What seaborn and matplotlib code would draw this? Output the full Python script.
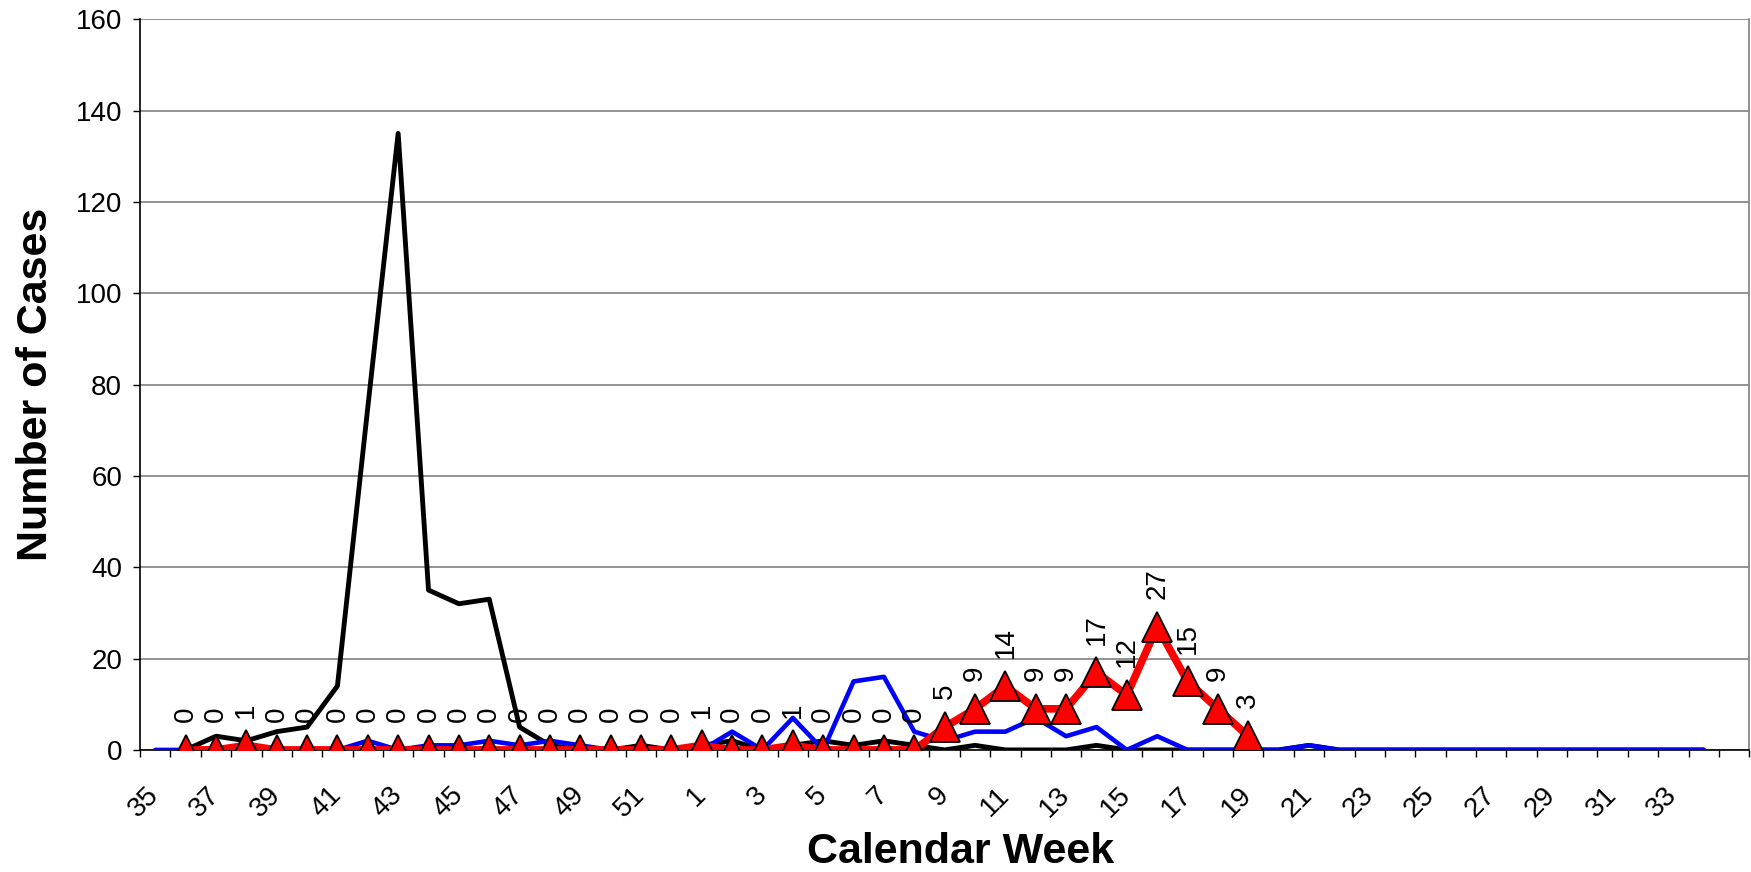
import pandas as pd
import matplotlib.pyplot as plt
import seaborn as sns

# semanas de calendario (35..52 e depois 1..34)
weeks = [str(w) for w in list(range(35, 53)) + list(range(1, 35))]

# serie preta (comeca na semana 36)
black_weeks = weeks[1:]
black_cases = [0, 3, 2, 4, 5, 14, 75, 135, 35, 32, 33, 5, 1, 0, 0, 1, 0,
               1, 2, 0, 1, 2, 1, 2, 1, 0, 1, 0, 0, 0, 1, 0, 0, 0, 0, 0, 0,
               1, 0, 0, 0, 0, 0, 0, 0, 0, 0, 0, 0, 0, 0]

# serie azul (semana 35 a 34)
blue_weeks = weeks
blue_cases = [0, 0, 0, 0, 0, 0, 0, 2, 0, 1, 1, 2, 1, 2, 1, 0, 0, 0,
              0, 4, 0, 7, 0, 15, 16, 4, 2, 4, 4, 7, 3, 5, 0, 3, 0, 0, 0, 0,
              1, 0, 0, 0, 0, 0, 0, 0, 0, 0, 0, 0, 0, 0]

# serie vermelha (semana 36 a 19), com rotulos
red_weeks = weeks[1:37]
red_cases = [0, 0, 1, 0, 0, 0, 0, 0, 0, 0, 0, 0, 0, 0, 0, 0, 0,
             1, 0, 0, 1, 0, 0, 0, 0, 5, 9, 14, 9, 9, 17, 12, 27, 15, 9, 3]

pos = {w: i for i, w in enumerate(weeks)}
df_black = pd.DataFrame({'x': [pos[w] for w in black_weeks], 'y': black_cases})
df_blue = pd.DataFrame({'x': [pos[w] for w in blue_weeks], 'y': blue_cases})
df_red = pd.DataFrame({'x': [pos[w] for w in red_weeks], 'y': red_cases})

sns.set_style("white")
plt.rcParams['font.family'] = ['Liberation Sans', 'DejaVu Sans']
plt.rcParams['text.color'] = 'black'
plt.rcParams['axes.labelcolor'] = 'black'
plt.rcParams['xtick.color'] = 'black'
plt.rcParams['ytick.color'] = 'black'

fig = plt.figure(figsize=(17.51, 8.72), dpi=100)
ax = fig.add_axes([0.080, 0.140, 0.919, 0.838])

sns.lineplot(data=df_black, x='x', y='y', color='black', linewidth=3.5, ax=ax, zorder=3)
sns.lineplot(data=df_blue, x='x', y='y', color='#0000FF', linewidth=3.3, ax=ax, zorder=4)
sns.lineplot(data=df_red, x='x', y='y', color='#FF0000', linewidth=5.5, ax=ax, zorder=5,
             marker='^', markersize=22, markerfacecolor='#FF0000',
             markeredgecolor='black', markeredgewidth=1.3)

# rotulos de dados
for x, y in zip(df_red['x'], df_red['y']):
    ax.annotate(str(y), (x, y), xytext=(0, 20), textcoords='offset points',
                rotation=90, ha='center', va='bottom', fontsize=20, zorder=6)

# eixos
ax.set_xlim(-0.5, len(weeks) + 0.5)
ax.set_ylim(0, 160)
ax.set_yticks(range(0, 161, 20))
ax.tick_params(axis='y', labelsize=20, length=5, width=1, direction='out', pad=8, left=True)
ax.set_xticks(range(0, len(weeks), 2))
ax.set_xticklabels(weeks[::2], rotation=45, ha='right', va='center', rotation_mode='anchor')
ax.set_xticks([i - 0.5 for i in range(len(weeks) + 2)], minor=True)
ax.tick_params(axis='x', which='major', labelsize=20, length=0, pad=30)
ax.tick_params(axis='x', which='minor', length=5, width=1, direction='out', bottom=True)

ax.grid(axis='y', color='#808080', linewidth=1.2)
ax.set_axisbelow(True)
for side in ['left', 'bottom']:
    ax.spines[side].set_color('black')
    ax.spines[side].set_linewidth(1.2)
ax.spines['top'].set_visible(False)
ax.spines['right'].set_color('#808080')
ax.spines['right'].set_linewidth(1.2)

ax.set_xlabel('Calendar Week', fontsize=31, fontweight='bold')
ax.xaxis.set_label_coords(0.51, -0.112)
ax.set_ylabel('Number of Cases', fontsize=31, fontweight='bold', labelpad=14)

plt.savefig('out.png', dpi=100)
